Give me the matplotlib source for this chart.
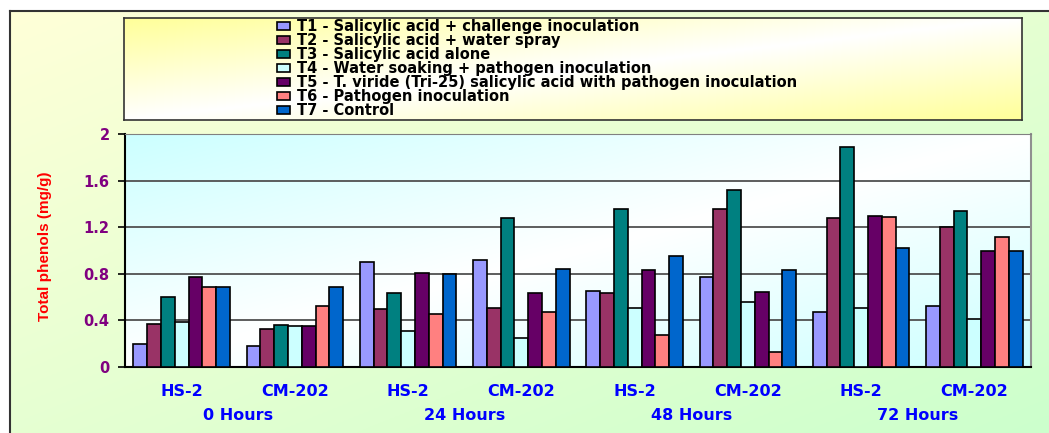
import numpy as np
import matplotlib
matplotlib.use("Agg")
import matplotlib.pyplot as plt
from matplotlib.patches import Patch

categories = ["HS-2", "CM-202"] * 4
periods = ["0 Hours", "24 Hours", "48 Hours", "72 Hours"]

series_names = [
    "T1 - Salicylic acid + challenge inoculation",
    "T2 - Salicylic acid + water spray",
    "T3 - Salicylic acid alone",
    "T4 - Water soaking + pathogen inoculation",
    "T5 - T. viride (Tri-25) salicylic acid with pathogen inoculation",
    "T6 - Pathogen inoculation",
    "T7 - Control",
]
t1 = [0.20, 0.18, 0.905, 0.92, 0.65, 0.77, 0.475, 0.525]
t2 = [0.37, 0.33, 0.50, 0.51, 0.635, 1.36, 1.28, 1.205]
t3 = [0.60, 0.36, 0.635, 1.28, 1.36, 1.52, 1.89, 1.34]
t4 = [0.39, 0.35, 0.31, 0.245, 0.51, 0.555, 0.51, 0.41]
t5 = [0.775, 0.35, 0.81, 0.635, 0.835, 0.645, 1.30, 1.00]
t6 = [0.69, 0.52, 0.455, 0.475, 0.275, 0.13, 1.29, 1.115]
t7 = [0.69, 0.685, 0.80, 0.845, 0.95, 0.83, 1.02, 1.00]
series = [t1, t2, t3, t4, t5, t6, t7]
colors = ["#9999FF", "#993366", "#008080", "#CCFFFF", "#660066", "#FF8080", "#0066CC"]

yticks = [0, 0.4, 0.8, 1.2, 1.6, 2]
ytick_labels = ["0", "0.4", "0.8", "1.2", "1.6", "2"]


def gradient(c1, c2, mode, n=200):
    u = np.linspace(0, 1, n)[None, :]
    t = np.linspace(0, 1, n)[:, None]
    if mode == "linear":
        g = (u + t) / 2
    else:
        g = np.abs(u + t - 1)
    c1 = np.array(matplotlib.colors.to_rgb(c1))
    c2 = np.array(matplotlib.colors.to_rgb(c2))
    return (1 - g)[..., None] * c1 + g[..., None] * c2


W, H = 1049, 433
fig = plt.figure(figsize=(W / 100, H / 100), dpi=100)

# chart area background
bg = fig.add_axes([10 / W, 0, 1 - 10 / W, (H - 11) / H], zorder=0)
bg.imshow(gradient("#FFFFD8", "#CCFFCC", "linear"), extent=[0, 1, 0, 1], aspect="auto")
bg.set_xlim(0, 1)
bg.set_ylim(0, 1)
bg.set_xticks([])
bg.set_yticks([])
for s in ["right", "bottom"]:
    bg.spines[s].set_visible(False)
for s in ["left", "top"]:
    bg.spines[s].set_color("#333333")
    bg.spines[s].set_linewidth(1.5)

# legend box
lb = fig.add_axes([124 / W, (H - 120) / H, 898 / W, 102 / H], zorder=1)
lb.imshow(gradient("#FFFFFF", "#FFFF99", "diag"), extent=[0, 1, 0, 1], aspect="auto")
lb.set_xlim(0, 1)
lb.set_ylim(0, 1)
lb.set_xticks([])
lb.set_yticks([])
for s in lb.spines.values():
    s.set_color("#333333")
    s.set_linewidth(1.2)

# main plot
ax = fig.add_axes([125 / W, (H - 367) / H, 906 / W, 233 / H], zorder=2)
ax.imshow(gradient("#FFFFFF", "#CCFFFF", "diag"), extent=[0, 1, 0, 1],
          transform=ax.transAxes, aspect="auto", zorder=-1)

x = np.arange(len(categories))
n = len(series)
w = 0.85 / n
for i, (vals, col) in enumerate(zip(series, colors)):
    ax.bar(x + (i - (n - 1) / 2) * w, vals, width=w, color=col,
           edgecolor="black", linewidth=1.2, label=series_names[i], zorder=3)

ax.set_xlim(-0.5, len(categories) - 0.5)
ax.set_ylim(0, 2)
ax.set_yticks(yticks)
ax.set_yticklabels(ytick_labels, color="#800080", fontsize=10.5,
                   fontweight="bold", family="DejaVu Sans")
ax.tick_params(axis="y", length=5, width=1.2, direction="out", pad=6)
ax.set_xticks(x)
ax.set_xticklabels(categories, color="#0000FF", fontsize=11.5,
                   fontweight="bold", family="DejaVu Sans")
ax.tick_params(axis="x", length=0, pad=12)
ax.yaxis.grid(True, color="#505050", linewidth=1.3)
ax.set_axisbelow(True)
ax.spines["left"].set_linewidth(1.5)
ax.spines["bottom"].set_linewidth(1.5)
ax.spines["top"].set_color("#808080")
ax.spines["right"].set_color("#909090")
ax.spines["right"].set_linewidth(1.5)

for k, p in enumerate(periods):
    ax.text(2 * k + 0.5, -49 / 233, p, transform=ax.get_xaxis_transform(),
            ha="center", va="center", color="#0000FF", fontsize=11.5,
            fontweight="bold", family="DejaVu Sans")

fig.text(45 / W, (H - 246) / H, "Total phenols (mg/g)", rotation=90,
         ha="center", va="center", color="#FF0000", fontsize=11,
         fontweight="bold", family="Liberation Sans")

handles = [Patch(facecolor=c, edgecolor="black", linewidth=1.2) for c in colors]
leg = fig.legend(handles, series_names, loc="upper left",
                 bbox_to_anchor=(277 / W, (H - 19) / H), frameon=False,
                 prop={"family": "DejaVu Sans", "weight": "bold", "size": 10.5},
                 labelspacing=-0.07, handlelength=0.9, handleheight=0.5,
                 handletextpad=0.5, borderpad=0, borderaxespad=0)
leg.set_zorder(10)

fig.savefig("out.png", dpi=100)
